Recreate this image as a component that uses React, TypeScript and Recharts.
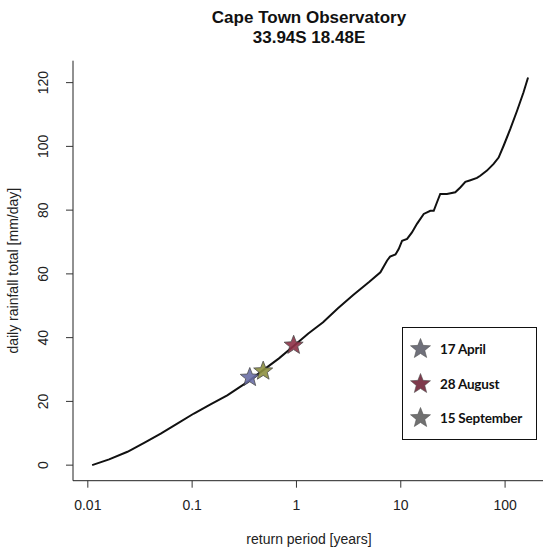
import React from "react";
import { ComposedChart, Line, Scatter, XAxis, YAxis } from "recharts";

// Empirical return-period curve for daily rainfall
const returnPeriodYears = [
  0.011, 0.016, 0.024, 0.035, 0.05, 0.072, 0.104, 0.15, 0.217, 0.34, 0.48, 0.68,
  0.94, 1.3, 1.8, 2.5, 3.5, 5.0, 6.38, 7.4, 7.9, 8.9, 9.55, 10.3, 11.5, 12.8,
  14.3, 16.6, 19.2, 20.7, 22.2, 23.9, 27.7, 33.3, 37.2, 41.6, 46.5, 53.8, 57.8,
  67.0, 77.6, 86.7, 96.8, 112, 130, 150, 166,
];
const rainfallMmPerDay = [
  0.0, 1.8, 4.2, 7.1, 9.9, 13.0, 16.2, 19.1, 21.9, 26.1, 29.8, 33.5,
  37.4, 41.3, 44.8, 49.2, 53.4, 57.5, 60.5, 64.2, 65.4, 66.1, 67.8, 70.4, 71.0, 73.0,
  75.7, 78.8, 79.8, 79.8, 82.4, 85.1, 85.1, 85.6, 87.1, 88.9, 89.4, 90.1, 90.8,
  92.4, 94.5, 96.5, 100.2, 105.4, 111.1, 116.9, 121.6,
];

// Highlighted rainfall events
const eventNames = ["17 April", "28 August", "15 September"];
const eventReturnPeriods = [0.357, 0.94, 0.48];
const eventRainfall = [27.5, 37.6, 29.5];

const xTicks = [0.01, 0.1, 1, 10, 100];
const yTicks = [0, 20, 40, 60, 80, 100, 120];

const curve = returnPeriodYears.map((T, i) => ({ T, v: rainfallMmPerDay[i] }));
const events = eventNames.map((name, i) => ({
  name,
  T: eventReturnPeriods[i],
  v: eventRainfall[i],
}));

const markColors: Record<string, string> = {
  "17 April": "#6a6ea6",
  "28 August": "#8e3348",
  "15 September": "#8d9040",
};
const legendColors: Record<string, string> = {
  "17 April": "#6f707a",
  "28 August": "#7e3a4c",
  "15 September": "#707070",
};

const FONT = "'Liberation Sans', Arial, sans-serif";
const TEXT = "#222";

function starPath(cx: number, cy: number, ro: number, ri: number) {
  const pts: string[] = [];
  for (let i = 0; i < 10; i++) {
    const r = i % 2 === 0 ? ro : ri;
    const a = (-90 + i * 36) * (Math.PI / 180);
    pts.push(`${(cx + r * Math.cos(a)).toFixed(2)},${(cy + r * Math.sin(a)).toFixed(2)}`);
  }
  return pts.join(" ");
}

const StarMark = (props: any) => {
  const { cx, cy, payload } = props;
  if (cx == null || cy == null) return null;
  return (
    <polygon
      points={starPath(cx, cy, 10, 4.3)}
      fill={markColors[payload.name]}
      stroke="#3a3a3a"
      strokeWidth={0.8}
      opacity={0.9}
    />
  );
};

const XTick = (props: any) => {
  const { x, y, payload } = props;
  return (
    <text x={x} y={y + 22.5} textAnchor="middle" fontFamily={FONT} fontSize={14} fill={TEXT}>
      {payload.value}
    </text>
  );
};

const YTick = (props: any) => {
  const { x, y, payload } = props;
  const bx = x - 18;
  return (
    <text
      x={bx}
      y={y}
      textAnchor="middle"
      transform={`rotate(-90 ${bx} ${y})`}
      fontFamily={FONT}
      fontSize={14}
      fill={TEXT}
    >
      {payload.value}
    </text>
  );
};

const X_DOMAIN: [number, number] = [0.00721, 244];
const Y_DOMAIN: [number, number] = [-4.88, 126.88];

export default function App() {
  return (
    <div
      style={{
        position: "absolute",
        left: 0,
        top: 0,
        width: 543,
        height: 555,
        overflow: "hidden",
        background: "#fff",
      }}
    >
      <ComposedChart
        width={550}
        height={555}
        data={curve}
        margin={{ top: 60.7, right: 4.5, left: 0, bottom: 0 }}
      >
        <XAxis
          dataKey="T"
          type="number"
          scale="log"
          domain={X_DOMAIN}
          allowDataOverflow
          ticks={xTicks}
          tickSize={7}
          tickMargin={0}
          height={74.3}
          tick={<XTick />}
          stroke="#222"
          tickLine={{ stroke: "#333" }}
        />
        <XAxis
          xAxisId="top"
          dataKey="T"
          type="number"
          scale="log"
          domain={X_DOMAIN}
          allowDataOverflow
          orientation="top"
          height={0}
          tick={false}
          tickLine={false}
          stroke="#222"
        />
        <YAxis
          type="number"
          domain={Y_DOMAIN}
          allowDataOverflow
          ticks={yTicks}
          tickSize={7}
          tickMargin={0}
          width={73}
          tick={<YTick />}
          stroke="#222"
          tickLine={{ stroke: "#333" }}
        />
        <YAxis
          yAxisId="right"
          type="number"
          domain={Y_DOMAIN}
          allowDataOverflow
          orientation="right"
          width={0}
          tick={false}
          tickLine={false}
          stroke="#222"
        />
        <Line
          dataKey="v"
          stroke="#111"
          strokeWidth={2}
          dot={false}
          isAnimationActive={false}
          type="linear"
        />
        <Scatter data={events} dataKey="v" shape={<StarMark />} isAnimationActive={false} />
      </ComposedChart>

      <svg
        width={543}
        height={555}
        style={{ position: "absolute", left: 0, top: 0, pointerEvents: "none" }}
      >
        <text x={309} y={23} textAnchor="middle" fontFamily={FONT} fontWeight="bold" fontSize={17} fill="#111">
          Cape Town Observatory
        </text>
        <text x={309} y={43} textAnchor="middle" fontFamily={FONT} fontWeight="bold" fontSize={17} fill="#111">
          33.94S 18.48E
        </text>
        <text x={309} y={544} textAnchor="middle" fontFamily={FONT} fontSize={14} fill={TEXT}>
          return period [years]
        </text>
        <text
          x={18}
          y={270.7}
          textAnchor="middle"
          transform="rotate(-90 18 270.7)"
          fontFamily={FONT}
          fontSize={14}
          fill={TEXT}
        >
          daily rainfall total [mm/day]
        </text>
      </svg>

      <div
        style={{
          position: "absolute",
          left: 402,
          top: 327,
          width: 133,
          height: 111,
          border: "1.5px solid #111",
          background: "#fff",
          fontFamily: "Lato, 'Noto Sans', sans-serif",
          fontWeight: 700,
          fontSize: 13.5,
          color: "#111",
        }}
      >
        {events.map((e, i) => (
          <div
            key={e.name}
            style={{
              position: "absolute",
              left: 0,
              top: 10 + i * 34.5,
              height: 22,
              display: "flex",
              alignItems: "center",
              whiteSpace: "nowrap",
            }}
          >
            <svg width={36} height={22}>
              <polygon points={starPath(17.5, 11, 10.5, 4.5)} fill={legendColors[e.name]} stroke="#555" strokeWidth={0.6} />
            </svg>
            <span style={{ marginLeft: 1, letterSpacing: -0.2 }}>{e.name}</span>
          </div>
        ))}
      </div>
    </div>
  );
}
